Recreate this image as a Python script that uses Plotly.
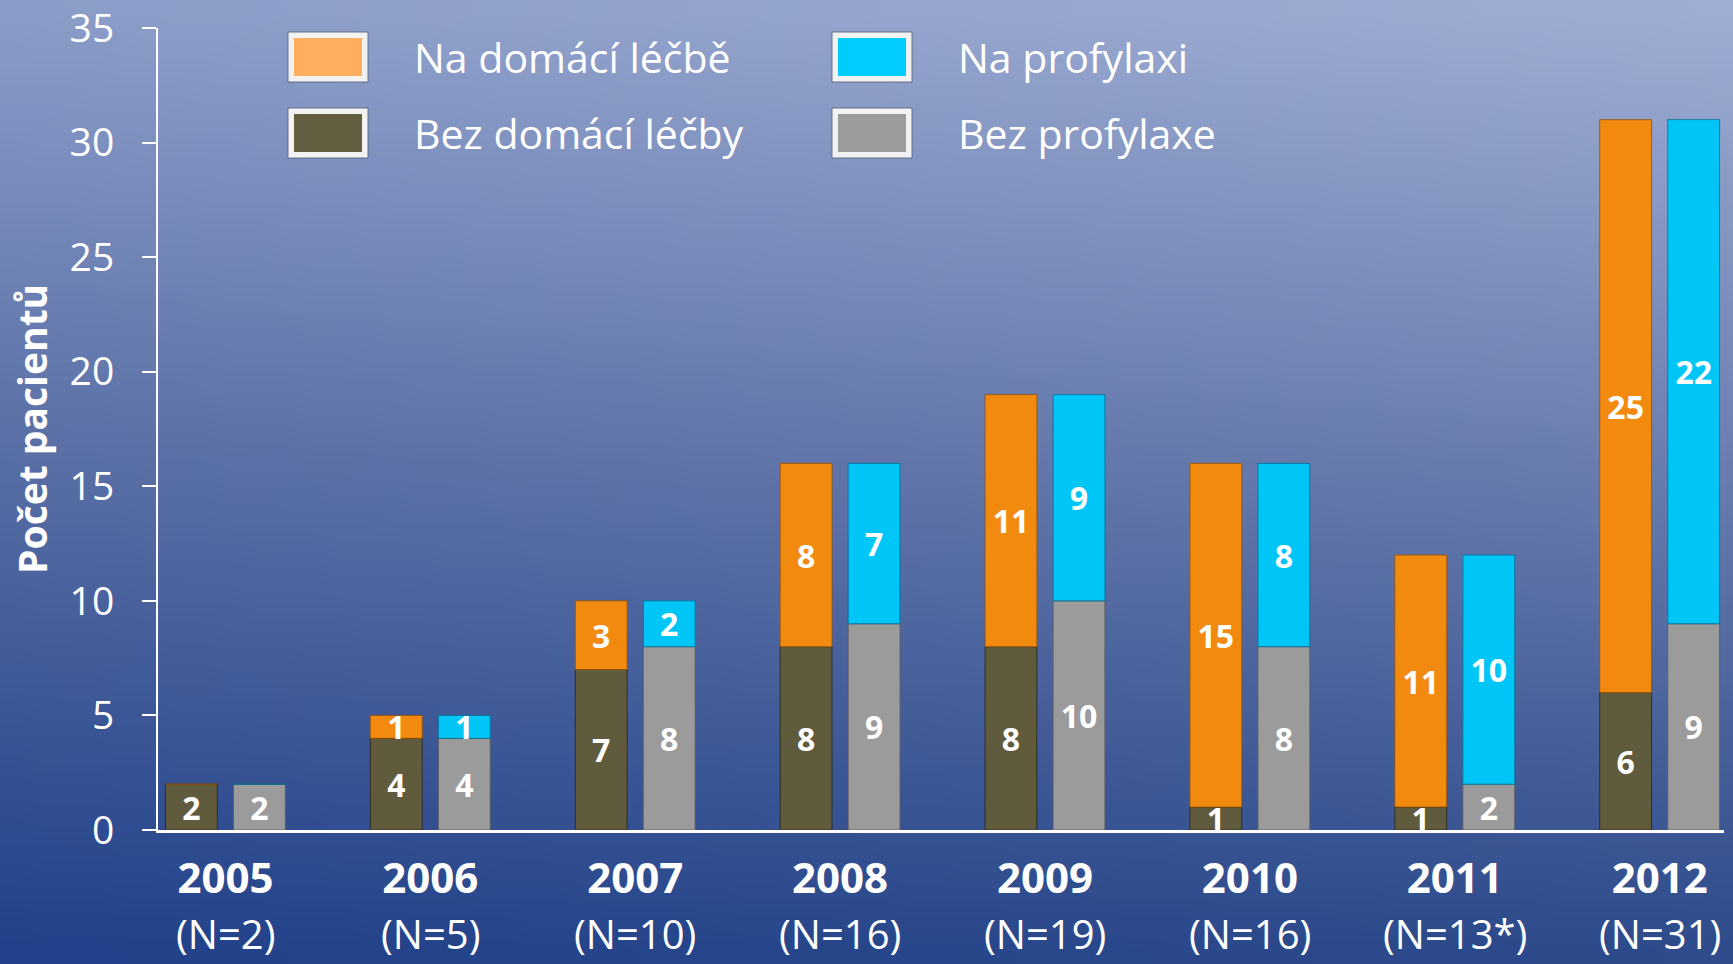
import base64, struct, zlib
import plotly.graph_objects as go

# ---------------- data ----------------
years = ["2005", "2006", "2007", "2008", "2009", "2010", "2011", "2012"]
n_labels = ["(N=2)", "(N=5)", "(N=10)", "(N=16)", "(N=19)", "(N=16)", "(N=13*)", "(N=31)"]
bez_domaci = [2, 4, 7, 8, 8, 1, 1, 6]       # Bez domácí léčby
na_domaci = [0, 1, 3, 8, 11, 15, 11, 25]    # Na domácí léčbě
bez_prof = [2, 4, 8, 9, 10, 8, 2, 9]        # Bez profylaxe
na_prof = [0, 1, 2, 7, 9, 8, 10, 22]        # Na profylaxi
y_ticks = [0, 5, 10, 15, 20, 25, 30, 35]

# ---------------- layout constants ----------------
W, H = 1733, 964
ML, MR, MT, MB = 158, 9, 28, 134
PW, PH = W - ML - MR, H - MT - MB
FONT = "Open Sans"

C_ORANGE = "#F28A0F"
C_BROWN = "#615B3D"
C_GRAY = "#9B9B9B"
C_CYAN = "#00C6F8"


def px_x(x):
    return (x - ML) / PW


def px_y(y):
    return (H - MB - y) / PH


# ---------------- background gradient (generated PNG) ----------------
def hex2rgb(h):
    h = h.lstrip("#")
    return [int(h[i:i + 2], 16) for i in (0, 2, 4)]


left_stops = [(0.0, hex2rgb("#8B9CC8")), (0.46, hex2rgb("#5A70A6")), (1.0, hex2rgb("#21418A"))]
right_stops = [(0.0, hex2rgb("#9EADD3")), (0.46, hex2rgb("#6D80B0")), (1.0, hex2rgb("#2E4B8B"))]


def interp(stops, t):
    for (t0, c0), (t1, c1) in zip(stops[:-1], stops[1:]):
        if t <= t1:
            f = (t - t0) / (t1 - t0)
            return [c0[k] + (c1[k] - c0[k]) * f for k in range(3)]
    return stops[-1][1]


gw, gh = 64, 36
raw = b""
for j in range(gh):
    t = j / (gh - 1)
    lc = interp(left_stops, t)
    rc = interp(right_stops, t)
    row = bytearray([0])
    for i in range(gw):
        u = i / (gw - 1)
        row += bytes(int(round(lc[k] + (rc[k] - lc[k]) * u)) for k in range(3))
    raw += bytes(row)


def chunk(tag, data):
    return struct.pack(">I", len(data)) + tag + data + struct.pack(">I", zlib.crc32(tag + data) & 0xFFFFFFFF)


png = b"\x89PNG\r\n\x1a\n" + chunk(b"IHDR", struct.pack(">IIBBBBB", gw, gh, 8, 2, 0, 0, 0)) \
    + chunk(b"IDAT", zlib.compress(raw)) + chunk(b"IEND", b"")
bg_uri = "data:image/png;base64," + base64.b64encode(png).decode()

# ---------------- traces ----------------
def labels(vals):
    return [str(v) if v else "" for v in vals]


common = dict(
    x=years,
    textposition="inside",
    insidetextanchor="middle",
    constraintext="none",
    textangle=0,
    textfont=dict(family=FONT, size=32, color="white", weight="bold"),
    showlegend=False,
    hoverinfo="x+y+name",
)

fig = go.Figure()
fig.add_trace(go.Bar(name="Bez domácí léčby", y=bez_domaci, text=labels(bez_domaci), offsetgroup="a",
                     marker=dict(color=C_BROWN, line=dict(color="rgba(40,36,20,0.8)", width=1)), **common))
fig.add_trace(go.Bar(name="Na domácí léčbě", y=na_domaci, base=bez_domaci, text=labels(na_domaci), offsetgroup="a",
                     marker=dict(color=C_ORANGE, line=dict(color="rgba(150,80,0,0.8)", width=1)), **common))
fig.add_trace(go.Bar(name="Bez profylaxe", y=bez_prof, text=labels(bez_prof), offsetgroup="b",
                     marker=dict(color=C_GRAY, line=dict(color="rgba(90,90,90,0.8)", width=1)), **common))
fig.add_trace(go.Bar(name="Na profylaxi", y=na_prof, base=bez_prof, text=labels(na_prof), offsetgroup="b",
                     marker=dict(color=C_CYAN, line=dict(color="rgba(0,110,150,0.8)", width=1)), **common))

# ---------------- legend (drawn manually, 2x2) ----------------
legend_items = [
    ("Na domácí léčbě", "#FFAD5E", 288, 32),
    ("Bez domácí léčby", "#645E41", 288, 108),
    ("Na profylaxi", "#00CCFF", 832, 32),
    ("Bez profylaxe", "#9C9C9C", 832, 108),
]
shapes = []
annotations = []
sw, sh = 80, 50
for name, col, lx, ly in legend_items:
    shapes.append(dict(type="rect", xref="paper", yref="paper",
                       x0=px_x(lx), x1=px_x(lx + sw), y0=px_y(ly + sh), y1=px_y(ly),
                       fillcolor="#F2F2F2", line=dict(color="rgba(90,100,130,0.9)", width=1)))
    shapes.append(dict(type="rect", xref="paper", yref="paper",
                       x0=px_x(lx + 6), x1=px_x(lx + sw - 6), y0=px_y(ly + sh - 6), y1=px_y(ly + 6),
                       fillcolor=col, line=dict(width=0)))
    annotations.append(dict(text=name, xref="paper", yref="paper", x=px_x(lx + 124), y=px_y(ly + sh / 2),
                            xanchor="left", yanchor="middle", showarrow=False,
                            font=dict(family=FONT, size=41, color="white")))

# N labels under the years (x given as category index)
for i, nl in enumerate(n_labels):
    annotations.append(dict(text=nl, x=i, xref="x", yref="paper", y=px_y(934), yanchor="middle",
                            xanchor="center", showarrow=False,
                            font=dict(family=FONT, size=40, color="white")))

# y-axis title
annotations.append(dict(text="<b>Počet pacientů</b>", xref="paper", yref="paper", x=px_x(31), y=px_y(429),
                        textangle=-90, xanchor="center", yanchor="middle", showarrow=False,
                        font=dict(family=FONT, size=39, color="white")))

fig.update_layout(
    width=W, height=H,
    margin=dict(l=ML, r=MR, t=MT, b=MB, autoexpand=False),
    paper_bgcolor="#4A64A0",
    plot_bgcolor="rgba(0,0,0,0)",
    barmode="group",
    bargap=0.336,
    bargroupgap=0.238,
    shapes=shapes,
    annotations=annotations,
    images=[dict(source=bg_uri, xref="paper", yref="paper",
                 x=px_x(0), y=px_y(0), sizex=W / PW, sizey=H / PH,
                 xanchor="left", yanchor="top", sizing="stretch", layer="below")],
    xaxis=dict(
        type="category",
        range=[-0.329, 7.314],
        tickmode="array", tickvals=years, ticktext=["<b>%s</b>" % y for y in years],
        tickfont=dict(family=FONT, size=42, color="white"),
        ticks="", showgrid=False, zeroline=False,
        showline=True, linecolor="white", linewidth=3,
        ticklabelstandoff=10,
        ticklabeloverflow="allow",
    ),
    yaxis=dict(
        range=[0, 35],
        tickmode="array", tickvals=y_ticks,
        tickfont=dict(family=FONT, size=39, color="white"),
        ticks="outside", ticklen=14, tickwidth=2, tickcolor="white",
        showgrid=False, zeroline=False,
        showline=True, linecolor="white", linewidth=2,
        ticklabelstandoff=20,
        ticklabeloverflow="allow",
    ),
)

fig.write_html("out.html",
               config={"displayModeBar": False},
               post_script="document.body.style.margin='0';document.body.style.overflow='hidden';")
